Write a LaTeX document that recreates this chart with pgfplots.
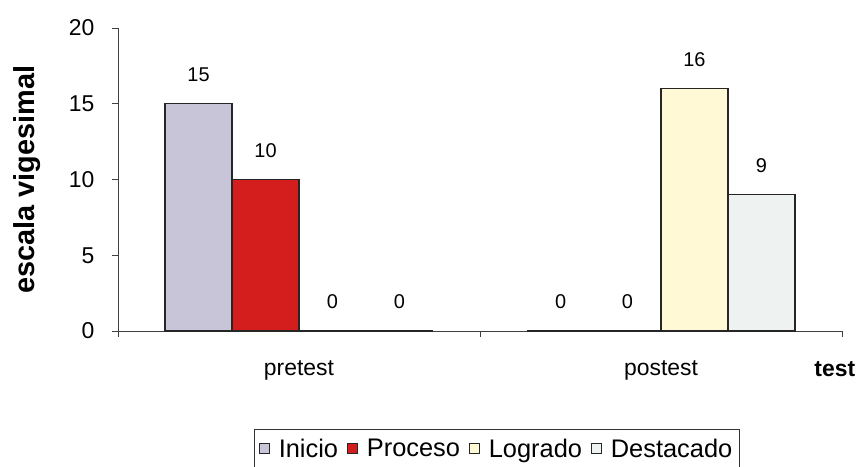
\documentclass[border=0pt]{standalone}
\usepackage{pgfplots}
\pgfplotsset{compat=1.18}
\usepackage{fontspec}
\setmainfont{Liberation Sans}
\definecolor{cInicio}{HTML}{C9C5D9}
\definecolor{cProceso}{HTML}{D41E1E}
\definecolor{cLogrado}{HTML}{FFF9D6}
\definecolor{cDestacado}{HTML}{EEF3F1}
\begin{document}
\begin{tikzpicture}
\begin{axis}[
  scale only axis, width=724bp, height=303bp,
  xmin=-0.5, xmax=1.5, ymin=0, ymax=20,
  axis lines*=left,
  axis line style={line width=0.8pt, black!75},
  ybar=0pt, bar width=0.185,
  /pgf/number format/assume math mode=true,
  ytick={0,5,10,15,20},
  xtick={-0.5,0.5,1.5}, xticklabels={,,},
  extra x ticks={0,1}, extra x tick labels={pretest,postest},
  extra x tick style={major tick length=0pt, xticklabel style={yshift=-26bp}},
  tick align=outside, major tick length=6bp,
  tick style={black!75, line width=0.8pt},
  ticklabel style={font=\fontsize{23}{26}\selectfont},
  yticklabel style={xshift=-14bp},
  ylabel={\textbf{escala vigesimal}},
  ylabel style={at={(axis description cs:-0.126,0.5)}, anchor=center, font=\fontsize{29}{32}\selectfont},
  xlabel={\textbf{test}},
  xlabel style={at={(axis description cs:0.99,0)}, anchor=center, yshift=-38bp, font=\fontsize{23}{26}\selectfont},
  nodes near coords,
  every node near coord/.append style={font=\fontsize{20}{23}\selectfont, black, yshift=18bp},
  legend columns=4,
  legend style={at={(axis description cs:0.523,-0.322)}, anchor=north, draw=black!80, font=\fontsize{25.5}{29}\selectfont,
    /tikz/every odd column/.append style={column sep=7bp},
    /tikz/every even column/.append style={column sep=7bp}, inner ysep=8bp, inner xsep=5bp},
  legend image code/.code={\draw[#1, line width=0.8pt] (0bp,-5bp) rectangle (10bp,5bp);},
]
\addplot[fill=cInicio, draw=black!85, line width=1.2pt] coordinates {(0,15) (1,0)};
\addplot[fill=cProceso, draw=black!85, line width=1.2pt] coordinates {(0,10) (1,0)};
\addplot[fill=cLogrado, draw=black!85, line width=1.2pt] coordinates {(0,0) (1,16)};
\addplot[fill=cDestacado, draw=black!85, line width=1.2pt] coordinates {(0,0) (1,9)};
\legend{Inicio,Proceso,Logrado,Destacado}
\end{axis}
\pgfresetboundingbox
\useasboundingbox (-118bp,-136bp) rectangle (744bp,331bp);
\end{tikzpicture}
\end{document}
